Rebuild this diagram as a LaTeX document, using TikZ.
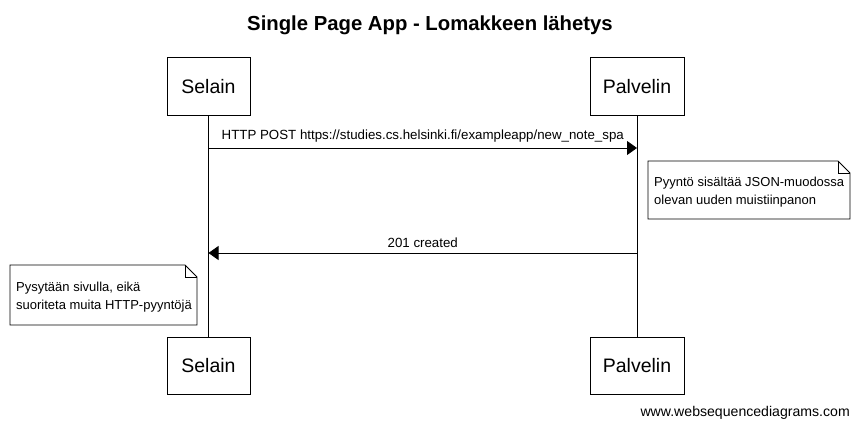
\documentclass[tikz,border=0pt]{standalone}
\usepackage{fontspec}
\setmainfont{Liberation Sans}
\usetikzlibrary{arrows.meta}
\begin{document}
\begin{tikzpicture}[x=1pt,y=-1pt,
  participant/.style={draw,line width=1pt,minimum width=83pt,minimum height=57pt,inner sep=0pt,font=\fontsize{19.5}{22}\selectfont},
  msg/.style={line width=0.8pt,-{Triangle[length=10pt,width=14pt]}},
  lbl/.style={font=\fontsize{13.3}{15}\selectfont,inner sep=0pt},
  notetext/.style={font=\fontsize{13}{18}\selectfont,align=left,inner sep=0pt,anchor=north west},
  notebox/.style={line width=0.8pt}]
\useasboundingbox (0,0) rectangle (859,428);
\node[font=\bfseries\fontsize{20.3}{24}\selectfont] (title) at (430,25) {Single Page App - Lomakkeen lähetys};
\node[participant] (s1) at (208.5,86.5) {Selain};
\node[participant,minimum width=94pt] (p1) at (637,86.5) {Palvelin};
\node[participant] (s2) at (208.5,365.5) {Selain};
\node[participant,minimum width=94pt] (p2) at (637,365.5) {Palvelin};
\draw[line width=0.8pt] (s1) -- (s2);
\draw[line width=0.8pt] (p1) -- (p2);
\coordinate (a1s) at (s1.south |- 0,148);
\coordinate (a1e) at (p1.south |- 0,148);
\draw[msg] (a1s) -- (a1e) node[lbl,midway,above=5pt] (l1) {HTTP POST https://studies.cs.helsinki.fi/exampleapp/new\_note\_spa};
% note right
\draw[notebox] (648,161) -- (838,161) -- (850,173) -- (850,219) -- (648,219) -- cycle;
\draw[notebox] (838,161) -- (838,173) -- (850,173);
\node[notetext] (n1) at (654,177) {Pyyntö sisältää JSON-muodossa\\olevan uuden muistiinpanon};
\coordinate (a2s) at (p1.south |- 0,253);
\coordinate (a2e) at (s1.south |- 0,253);
\draw[msg] (a2s) -- (a2e) node[lbl,midway,above=5pt] (l2) {201 created};
% note left
\draw[notebox] (10,265) -- (185,265) -- (197,277) -- (197,325) -- (10,325) -- cycle;
\draw[notebox] (185,265) -- (185,277) -- (197,277);
\node[notetext] (n2) at (16,282) {Pysytään sivulla, eikä\\suoriteta muita HTTP-pyyntöjä};
\node[font=\fontsize{14.1}{16}\selectfont,anchor=east,inner sep=0pt] (foot) at (850,413) {www.websequencediagrams.com};
\end{tikzpicture}
\end{document}
